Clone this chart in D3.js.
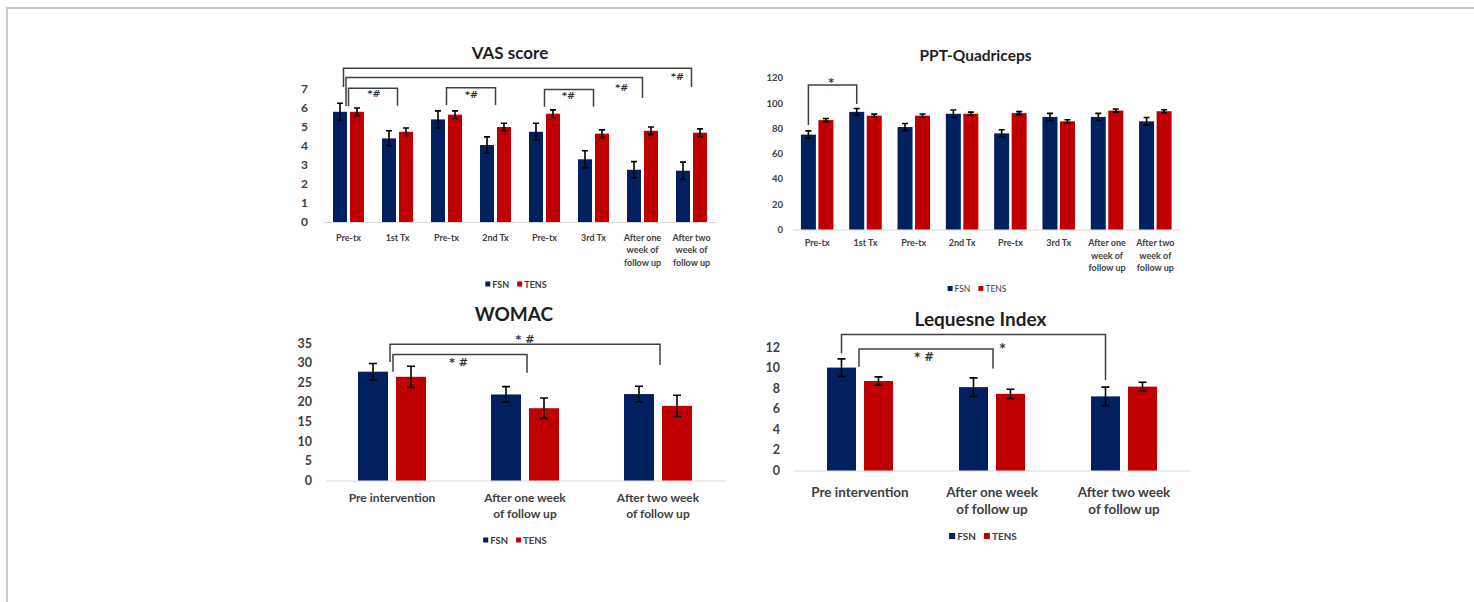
<!DOCTYPE html>
<html>
<head>
<meta charset="utf-8">
<script src="https://cdn.jsdelivr.net/npm/d3@7"></script>
<style>
  html, body { margin: 0; padding: 0; background: #fff; }
  svg { display: block; font-family: Lato, "Open Sans", sans-serif; }
</style>
</head>
<body>
<div id="chart"></div>
<script>
const SERIES = ["FSN", "TENS"];
const COLORS = { FSN: "#002060", TENS: "#c00000" };

// ---------- data ----------
// VAS score
const vasLabels = ["Pre-tx", "1st Tx", "Pre-tx", "2nd Tx", "Pre-tx", "3rd Tx",
  "After one\nweek of\nfollow up", "After two\nweek of\nfollow up"];
const vasFSN = [5.8, 4.4, 5.4, 4.05, 4.75, 3.3, 2.75, 2.7];
const vasFSNErr = [0.45, 0.4, 0.45, 0.43, 0.45, 0.45, 0.43, 0.45];
const vasTENS = [5.8, 4.75, 5.65, 5.0, 5.7, 4.65, 4.8, 4.7];
const vasTENSErr = [0.2, 0.2, 0.2, 0.2, 0.2, 0.2, 0.2, 0.2];
const vasTicks = [0, 1, 2, 3, 4, 5, 6, 7];
const vasBrackets = [
  { from: 0, fromDx: -5, to: 7, level: 8.09, fromEnd: 7.1, toEnd: 7.1, label: "*#", labelT: 0.96, labelLevel: 7.45 },
  { from: 0, fromDx: -2.5, to: 6, level: 7.6, fromEnd: 6.1, toEnd: 6.53, label: "*#", labelT: 0.93, labelLevel: 6.92 },
  { from: 0, to: 1, level: 7.04, fromEnd: 6.1, toEnd: 6.12, label: "*#", labelT: 0.52, labelLevel: 6.6 },
  { from: 2, to: 3, level: 7.07, fromEnd: 6.16, toEnd: 6.16, label: "*#", labelT: 0.51, labelLevel: 6.55 },
  { from: 4, to: 5, level: 6.98, fromEnd: 6.07, toEnd: 6.07, label: "*#", labelT: 0.49, labelLevel: 6.5 }
];

// PPT-Quadriceps
const pptLabels = vasLabels;
const pptFSN = [75, 93, 81, 91.5, 76, 89, 89, 85.5];
const pptFSNErr = [3, 2.7, 2.8, 3, 2.8, 2.8, 2.8, 3];
const pptTENS = [86.5, 90, 90, 91.5, 92, 85.5, 94, 93.5];
const pptTENSErr = [1.2, 1.2, 1.3, 1.3, 1.2, 1.3, 1.2, 1.2];
const pptTicks = [0, 20, 40, 60, 80, 100, 120];
const pptBrackets = [
  { from: 0, fromAt: "FSN", to: 1, toAt: "FSN", level: 114.2, fromEnd: 82.6, toEnd: 99.2, label: "*", labelT: 0.47, labelLevel: 113.5 }
];

// WOMAC
const womacLabels = ["Pre intervention", "After one week\nof follow up", "After two week\nof follow up"];
const womacFSN = [27.7, 21.9, 22];
const womacFSNErr = [2.1, 2, 2];
const womacTENS = [26.4, 18.4, 19];
const womacTENSErr = [2.7, 2.6, 2.7];
const womacTicks = [0, 5, 10, 15, 20, 25, 30, 35];
const womacBrackets = [
  { from: 0, fromDx: -2, to: 2, toDx: 2, level: 34.66, fromEnd: 30.15, toEnd: 29.4, label: "* #", labelT: 0.5, labelLevel: 35.1 },
  { from: 0, fromDx: 1, to: 1, toDx: 2, level: 32.1, fromEnd: 27.7, toEnd: 27.4, label: "* #", labelT: 0.49, labelLevel: 29.1 }
];

// Lequesne Index
const lequesneLabels = womacLabels;
const lequesneFSN = [10.0, 8.1, 7.2];
const lequesneFSNErr = [0.85, 0.9, 0.9];
const lequesneTENS = [8.7, 7.45, 8.15];
const lequesneTENSErr = [0.4, 0.45, 0.42];
const lequesneTicks = [0, 2, 4, 6, 8, 10, 12];
const lequesneBrackets = [
  { from: 0, fromAt: "FSN", to: 2, toAt: "FSN", level: 13.22, fromEnd: 11.38, toEnd: 8.79, label: "*", labelT: 0.61, labelLevel: 11.5 },
  { from: 0, fromDx: -1, to: 1, toDx: 1, level: 11.8, fromEnd: 10.08, toEnd: 9.92, label: "* #", labelT: 0.485, labelLevel: 10.63 }
];

// ---------- layout ----------
const vasLayout = { x0: 324, x1: 716, y0: 222, y1: 89, barW: 14, gap: 3, cap: 6,
  tickX: 308, tickSize: 12, labelY: 237, labelLH: 12.5, labelSize: 9,
  titleX: 510, titleY: 52, titleSize: 17, legendX: 516, legendY: 284, legendSize: 9, legendBold: true, sq: 5, starSize: 9.5 };
const pptLayout = { x0: 793, x1: 1179.5, y0: 229.5, y1: 77.7, barW: 15, gap: 2.5, cap: 6,
  tickX: 783, tickSize: 9.5, labelY: 242.7, labelLH: 12.5, labelSize: 9,
  titleX: 975.5, titleY: 55, titleSize: 15.5, legendX: 977, legendY: 288.5, legendSize: 8.5, legendBold: false, sq: 5, starSize: 11 };
const womacLayout = { x0: 325.5, x1: 724.5, y0: 480.5, y1: 343, barW: 30, gap: 8, cap: 8,
  tickX: 312, tickSize: 12.5, labelY: 497.3, labelLH: 16, labelSize: 12,
  titleX: 514, titleY: 313, titleSize: 19, legendX: 515, legendY: 540, legendSize: 9.5, legendBold: true, sq: 5, starSize: 11 };
const lequesneLayout = { x0: 794, x1: 1190, y0: 470.5, y1: 347, barW: 29, gap: 8, cap: 8,
  tickX: 780, tickSize: 12.5, labelY: 491.7, labelLH: 17.6, labelSize: 13.5,
  titleX: 980.5, titleY: 318, titleSize: 19, legendX: 983, legendY: 536, legendSize: 10, legendBold: true, sq: 6, starSize: 11.5 };

// ---------- helpers ----------
function drawPanel(svg, cfg, lay) {
  const g = svg.append("g");
  const n = cfg.labels.length;
  const step = (lay.x1 - lay.x0) / n;
  const pad = 1 - (2 * lay.barW + lay.gap) / step;

  const x = d3.scaleBand().domain(d3.range(n)).range([lay.x0, lay.x1])
    .paddingInner(pad).paddingOuter(pad / 2);
  const xs = d3.scaleBand().domain(SERIES).range([0, x.bandwidth()])
    .paddingInner(lay.gap / (lay.barW + lay.gap));
  const y = d3.scaleLinear().domain([0, d3.max(cfg.ticks)]).range([lay.y0, lay.y1]);

  // title
  g.append("text")
    .attr("x", lay.titleX).attr("y", lay.titleY)
    .attr("dominant-baseline", "central")
    .attr("text-anchor", "middle")
    .attr("font-size", lay.titleSize).attr("font-weight", 700)
    .attr("fill", "#1e1e1e")
    .text(cfg.title);

  // y axis (labels only)
  g.append("g")
    .attr("transform", `translate(${lay.x0},0)`)
    .call(d3.axisLeft(y).tickValues(cfg.ticks).tickFormat(d3.format("d"))
      .tickSize(0).tickPadding(lay.x0 - lay.tickX))
    .attr("font-family", null).attr("font-size", null)
    .call(a => a.select(".domain").remove())
    .call(a => a.selectAll("text")
      .attr("font-size", lay.tickSize).attr("font-weight", 700).attr("fill", "#404040"));

  // x axis
  const xa = g.append("g")
    .attr("transform", `translate(0,${lay.y0})`)
    .call(d3.axisBottom(x).tickSize(0).tickSizeOuter(0).tickFormat(""))
    .attr("font-family", null).attr("font-size", null);
  xa.select(".domain").attr("stroke", "#d9d9d9").attr("stroke-width", 1.2);
  xa.selectAll(".tick text").each(function(i) {
    const t = d3.select(this).text(null).attr("y", null).attr("dy", null)
      .attr("font-size", lay.labelSize).attr("font-weight", 700).attr("fill", "#404040");
    cfg.labels[i].split("\n").forEach((line, k) => {
      t.append("tspan")
        .attr("x", 0)
        .attr("y", lay.labelY - lay.y0 + k * lay.labelLH)
        .attr("dominant-baseline", "central")
        .text(line);
    });
  });

  // bars
  const groups = g.append("g").selectAll("g")
    .data(d3.range(n))
    .join("g")
    .attr("transform", i => `translate(${x(i)},0)`);

  const cells = groups.selectAll("g")
    .data(i => SERIES.map(s => ({ s, v: cfg.values[s][i], e: cfg.errors[s][i] })))
    .join("g");

  cells.append("rect")
    .attr("x", d => xs(d.s))
    .attr("y", d => y(d.v))
    .attr("width", xs.bandwidth())
    .attr("height", d => y(0) - y(d.v))
    .attr("fill", d => COLORS[d.s]);

  cells.append("path")
    .attr("d", d => {
      const cx = xs(d.s) + xs.bandwidth() / 2;
      const c = lay.cap / 2;
      const top = y(d.v + d.e), bot = y(d.v - d.e);
      return `M${cx - c},${top}H${cx + c}M${cx},${top}V${bot}M${cx - c},${bot}H${cx + c}`;
    })
    .attr("fill", "none")
    .attr("stroke", "#000")
    .attr("stroke-width", 1.6);

  // significance brackets
  const anchorX = (gi, at, dx) => {
    const off = at ? xs(at) + xs.bandwidth() / 2 : x.bandwidth() / 2;
    return x(gi) + off + (dx || 0);
  };
  cfg.brackets.forEach(b => {
    const xa0 = anchorX(b.from, b.fromAt, b.fromDx);
    const xb0 = anchorX(b.to, b.toAt, b.toDx);
    g.append("path")
      .attr("d", `M${xa0},${y(b.fromEnd)}V${y(b.level)}H${xb0}V${y(b.toEnd)}`)
      .attr("fill", "none")
      .attr("stroke", "#404040")
      .attr("stroke-width", 1.5);
    g.append("text")
      .attr("x", xa0 + (xb0 - xa0) * b.labelT)
      .attr("y", y(b.labelLevel))
      .attr("text-anchor", "middle")
      .attr("font-family", "'DejaVu Sans', sans-serif")
      .attr("font-size", lay.starSize).attr("font-weight", 700)
      .attr("fill", "#333")
      .text(b.label);
  });

  // legend
  const leg = g.append("g");
  let cx = 0;
  SERIES.forEach(s => {
    leg.append("rect")
      .attr("x", cx).attr("y", lay.legendY - lay.sq / 2)
      .attr("width", lay.sq).attr("height", lay.sq)
      .attr("fill", COLORS[s]);
    const t = leg.append("text")
      .attr("x", cx + lay.sq + 2).attr("y", lay.legendY)
      .attr("dominant-baseline", "central")
      .attr("font-size", lay.legendSize)
      .attr("font-weight", lay.legendBold ? 700 : 400)
      .attr("fill", "#404040")
      .text(s);
    cx += lay.sq + 2 + t.node().getComputedTextLength() + 8;
  });
  const total = cx - 8;
  leg.attr("transform", `translate(${lay.legendX - total / 2},0)`);
}

// ---------- main ----------
const svg = d3.select("#chart").append("svg")
  .attr("width", 1474)
  .attr("height", 602);

svg.append("rect")
  .attr("x", 7).attr("y", 8)
  .attr("width", 1600).attr("height", 800)
  .attr("fill", "none")
  .attr("stroke", "#c8c8c8")
  .attr("stroke-width", 2);

drawPanel(svg, {
  title: "VAS score", labels: vasLabels, ticks: vasTicks, brackets: vasBrackets,
  values: { FSN: vasFSN, TENS: vasTENS }, errors: { FSN: vasFSNErr, TENS: vasTENSErr }
}, vasLayout);

drawPanel(svg, {
  title: "PPT-Quadriceps", labels: pptLabels, ticks: pptTicks, brackets: pptBrackets,
  values: { FSN: pptFSN, TENS: pptTENS }, errors: { FSN: pptFSNErr, TENS: pptTENSErr }
}, pptLayout);

drawPanel(svg, {
  title: "WOMAC", labels: womacLabels, ticks: womacTicks, brackets: womacBrackets,
  values: { FSN: womacFSN, TENS: womacTENS }, errors: { FSN: womacFSNErr, TENS: womacTENSErr }
}, womacLayout);

drawPanel(svg, {
  title: "Lequesne Index", labels: lequesneLabels, ticks: lequesneTicks, brackets: lequesneBrackets,
  values: { FSN: lequesneFSN, TENS: lequesneTENS }, errors: { FSN: lequesneFSNErr, TENS: lequesneTENSErr }
}, lequesneLayout);
</script>
</body>
</html>
